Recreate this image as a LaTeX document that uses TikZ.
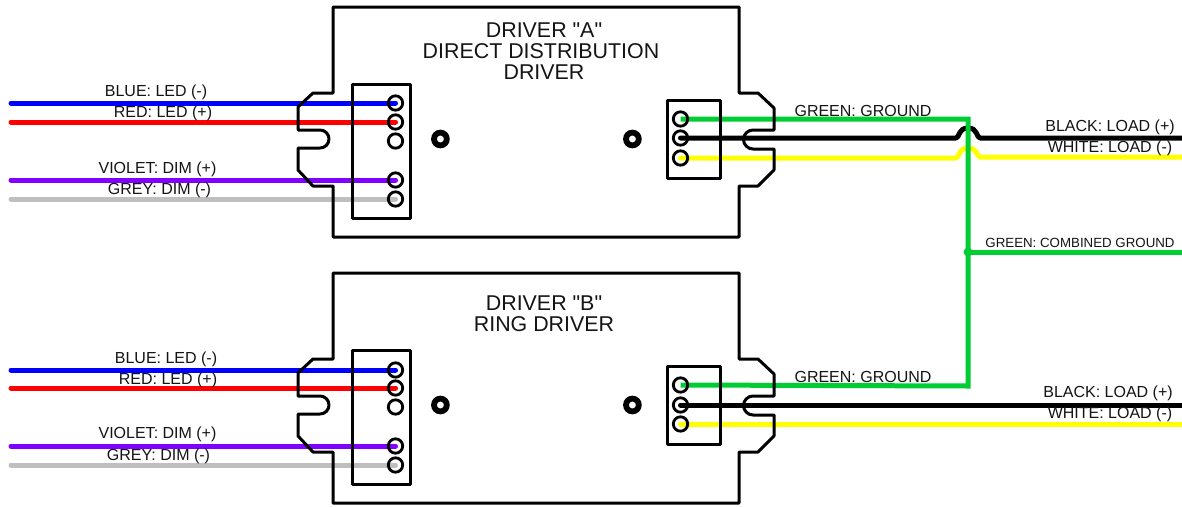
\documentclass[tikz,border=0pt]{standalone}
\usepackage{fontspec}
\setmainfont{Liberation Sans}
\newfontfamily\plainarial{Liberation Sans}
\pgfdeclarelayer{wires}
\pgfsetlayers{wires,main}
\definecolor{wblue}{RGB}{0,0,255}
\definecolor{wred}{RGB}{255,0,0}
\definecolor{wviolet}{RGB}{128,0,255}
\definecolor{wgrey}{RGB}{191,191,191}
\definecolor{wgreen}{RGB}{0,204,51}
\definecolor{wyellow}{RGB}{255,255,0}
\definecolor{ink}{RGB}{20,20,20}
\tikzset{
  x=1pt,y=-1pt,
  outline/.style={draw=black,line width=3pt,line join=round,line cap=round},
  pin/.style={circle,draw=black,line width=2.8pt,minimum size=14.4pt,inner sep=0pt},
  hole/.style={circle,draw=black,line width=5.8pt,minimum size=12.8pt,inner sep=0pt},
  wire/.style={line width=5pt,line cap=round,line join=round},
  wirelabel/.style={font=\plainarial\fontsize{16}{16}\selectfont,text=ink,inner sep=0pt},
  smalllabel/.style={font=\plainarial\fontsize{13.3}{13.3}\selectfont,text=ink,inner sep=0pt},
  title/.style={font=\plainarial\fontsize{21.4}{21.4}\selectfont,text=ink,inner sep=0pt},
  pics/shell/.style={code={
    \draw[outline] (333,7) -- (739,7) -- (739,93) -- (758,93) -- (774,108) -- (774,130)
      -- (753,130) arc[start angle=270,end angle=90,radius=9.5] -- (774,149)
      -- (774,170) -- (758,186) -- (739,186) -- (739,237) -- (333,237) -- (333,186)
      -- (313,186) -- (298,170) -- (298,148) -- (320,148)
      arc[start angle=90,end angle=-90,radius=9] -- (298,130) -- (298,107) -- (313,93)
      -- (333,93) -- cycle;
    \draw[outline] (352.3,84) rectangle (410.3,218);
    \draw[outline] (667.3,100) rectangle (720.3,178);
  }}
}
\begin{document}
\begin{tikzpicture}
\useasboundingbox (0,0) rectangle (1182,506);
\pic at (0,0) {shell};
\pic at (0,266) {shell};
% mounting holes
\node[hole] (hAl) at (440.4,139) {};
\node[hole] (hAr) at (632.4,139) {};
\node[hole] (hBl) at (440.4,405) {};
\node[hole] (hBr) at (632.4,405) {};
% driver A pins
\node[pin] (a1) at (395.5,103) {};
\node[pin] (a2) at (395.5,122) {};
\node[pin] (a3) at (395.5,141) {};
\node[pin] (a4) at (395.5,180) {};
\node[pin] (a5) at (395.5,199) {};
\node[pin] (a6) at (680.5,119) {};
\node[pin] (a7) at (680.5,138) {};
\node[pin] (a8) at (680.5,158) {};
% driver B pins
\node[pin] (b1) at (395.5,370) {};
\node[pin] (b2) at (395.5,388) {};
\node[pin] (b3) at (395.5,407) {};
\node[pin] (b4) at (395.5,446) {};
\node[pin] (b5) at (395.5,465) {};
\node[pin] (b6) at (680.5,385) {};
\node[pin] (b7) at (680.5,405) {};
\node[pin] (b8) at (680.5,424) {};
% free ends
\coordinate (la1) at (11,103);
\coordinate (la2) at (11,122);
\coordinate (la4) at (11,180);
\coordinate (la5) at (11,199);
\coordinate (lb1) at (11,370);
\coordinate (lb2) at (11,388);
\coordinate (lb4) at (11,446);
\coordinate (lb5) at (11,465);
\coordinate (ra7) at (1184,138);
\coordinate (ra8) at (1184,157);
\coordinate (rc) at (1184,252);
\coordinate (rb7) at (1184,405);
\coordinate (rb8) at (1184,424);
\coordinate (gtop) at (968,119);
\coordinate (gbot) at (968,386);
\coordinate (gjoin) at (968,252);
\begin{pgfonlayer}{wires}
\draw[wire,wblue] (la1) -- (a1.center);
\draw[wire,wred] (la2) -- (a2.center);
\draw[wire,wviolet] (la4) -- (a4.center);
\draw[wire,wgrey] (la5) -- (a5.center);
\draw[wire,wblue] (lb1) -- (b1.center);
\draw[wire,wred] (lb2) -- (b2.center);
\draw[wire,wviolet] (lb4) -- (b4.center);
\draw[wire,wgrey] (lb5) -- (b5.center);
% hops over the ground line
\draw[wire,wyellow] (a8.center) -- (956,158) .. controls (959.5,158) and (958,148) .. (968,148)
  .. controls (978,148) and (976.5,157) .. (980,157) -- (ra8);
\draw[wire,black] (a7.center) -- (956,138) .. controls (959.5,138) and (958,128) .. (968,128)
  .. controls (978,128) and (976.5,138) .. (980,138) -- (ra7);
\draw[wire,wyellow] (b8.center) -- (rb8);
\draw[wire,black] (b7.center) -- (rb7);
% ground
\draw[wire,wgreen,line cap=butt,line join=miter] (a6.center) -- (gtop) -- (gbot) -- (b6.center);
\draw[wire,wgreen] (gjoin) -- (rc);
\fill[wgreen] (gjoin) circle[radius=4.4];
\end{pgfonlayer}
% titles
\node[title] (ta1) at (544,30.3) {DRIVER "A"};
\node[title] (ta2) at (541,51.3) {DIRECT DISTRIBUTION};
\node[title] (ta3) at (544,72.3) {DRIVER};
\node[title] (tb1) at (544,303.3) {DRIVER "B"};
\node[title] (tb2) at (544,324.3) {RING DRIVER};
% labels A
\node[wirelabel] (l1) at (156,92.4) {BLUE: LED (-)};
\node[wirelabel] (l2) at (163,113.4) {RED: LED (+)};
\node[wirelabel] (l3) at (157.5,169.4) {VIOLET: DIM (+)};
\node[wirelabel] (l4) at (159.5,190.4) {GREY: DIM (-)};
\node[wirelabel] (l5) at (863,111.4) {GREEN: GROUND};
\node[wirelabel] (l6) at (1110,127.4) {BLACK: LOAD (+)};
\node[wirelabel] (l7) at (1110,148.4) {WHITE: LOAD (-)};
\node[smalllabel] (l8) at (1080,243) {GREEN: COMBINED GROUND};
% labels B
\node[wirelabel] (m1) at (166,359.4) {BLUE: LED (-)};
\node[wirelabel] (m2) at (168,380.4) {RED: LED (+)};
\node[wirelabel] (m3) at (157.5,434.4) {VIOLET: DIM (+)};
\node[wirelabel] (m4) at (158.5,456.4) {GREY: DIM (-)};
\node[wirelabel] (m5) at (863,376.7) {GREEN: GROUND};
\node[wirelabel] (m6) at (1108,393.4) {BLACK: LOAD (+)};
\node[wirelabel] (m7) at (1110,414.4) {WHITE: LOAD (-)};
\end{tikzpicture}
\end{document}
